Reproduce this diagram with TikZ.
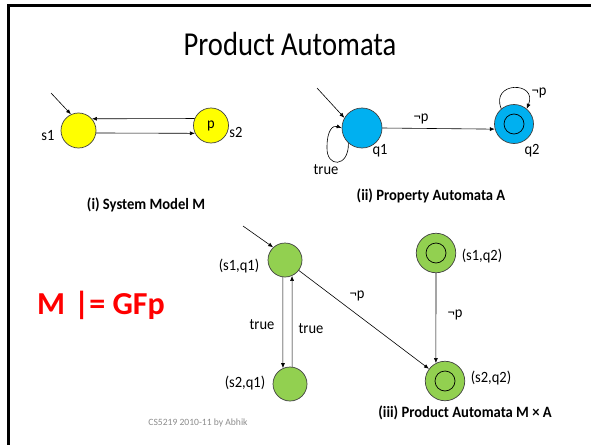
\documentclass[tikz,border=0pt]{standalone}
\usepackage{fontspec}
\usepackage{graphicx}
\setmainfont{Carlito}
\usetikzlibrary{arrows.meta}
\definecolor{sysyellow}{HTML}{FFFF00}
\definecolor{propblue}{HTML}{00B0F0}
\definecolor{prodgreen}{HTML}{92D050}
\definecolor{alertred}{HTML}{FF0000}
\definecolor{footgray}{HTML}{8C8C8C}
% slightly tall lettering
\newcommand{\tallA}[1]{\scalebox{1}[1.08]{#1}}
\newcommand{\tallB}[1]{\scalebox{1}[1.17]{#1}}

\begin{document}
\begin{tikzpicture}[x=1pt,y=-1pt,
  state/.style={circle, draw=black!75, line width=0.7pt, inner sep=0pt},
  sysstate/.style={state, fill=sysyellow, minimum size=35pt},
  propstate/.style={state, fill=propblue, minimum size=40pt},
  prodstate/.style={state, fill=prodgreen},
  accept/.style={path picture={\draw[black, line width=0.7pt]
      (path picture bounding box.center) circle (10pt);}},
  edge/.style={draw, line width=0.6pt, -{Latex[length=5pt,width=4pt]}},
  lbl/.style={font=\fontsize{14.5}{16}\selectfont, inner sep=0pt},
  caption/.style={font=\bfseries\fontsize{14.6}{17}\selectfont, inner sep=0pt},
]
\clip (0,0) rectangle (591,444);
\useasboundingbox (0,0) rectangle (591,444);
% slide frame
\draw[line width=3pt] (8,6) rectangle (640,480);

% title
\node[font=\fontsize{28.6}{34}\selectfont, inner sep=0pt] (title) at (290,44) {\tallB{Product Automata}};

% (i) system model
\node[sysstate] (s1) at (78.5,130.5) {};
\node[sysstate, lbl] (s2) at (211,125.5) {\tallA{p}};
\node[lbl] (s1l) at (48,136) {\tallA{s1}};
\node[lbl] (s2l) at (236,132) {\tallA{s2}};
\coordinate (s1in) at (51,93);
\draw[edge] (s1in) -- (s1.115);
\draw[edge] (s2.157) -- (s1.41);
\draw[edge] (s1.352) -- (s2.206);
\node[caption] (capi) at (146,205) {\tallA{(i) System Model M}};

% (ii) property automaton
\node[propstate] (q1) at (362,128) {};
\node[propstate, minimum size=39pt, accept] (q2) at (514,124) {};
\node[lbl] (q1l) at (380,151) {\tallA{q1}};
\node[lbl] (q2l) at (532,151) {\tallA{q2}};
\coordinate (q1in) at (317,88);
\draw[edge] (q1in) -- (q1.150);
\draw[edge] (q1.east) -- (q2.195);
\node[lbl] (q12l) at (421,119) {\tallA{¬p}};
\draw[edge] (q1.228) .. controls (349,168) and (326,168) .. (327,147)
  .. controls (327,130) and (333,125) .. (q1.180);
\node[lbl] (truel) at (326,170) {\tallA{true}};
\draw[edge] (q2.130) .. controls (490,81) and (538,81) .. (q2.50);
\node[lbl] (q22l) at (539,93) {\tallA{¬p}};
\node[caption] (capii) at (431,196) {\tallA{(ii) Property Automata A}};

% (iii) product automaton
\node[prodstate, minimum size=34pt] (s1q1) at (285,260) {};
\node[prodstate, minimum size=34pt] (s2q1) at (290,384) {};
\node[prodstate, minimum size=39.5pt, accept] (s1q2) at (436,253) {};
\node[prodstate, minimum size=39.5pt, accept] (s2q2) at (445,381) {};
\node[lbl] (s1q1l) at (239,266) {\tallA{(s1,q1)}};
\node[lbl] (s2q1l) at (245,383) {\tallA{(s2,q1)}};
\node[lbl] (s1q2l) at (482,256) {\tallA{(s1,q2)}};
\node[lbl] (s2q2l) at (491,378) {\tallA{(s2,q2)}};
\coordinate (s1q1in) at (243,226);
\draw[edge] (s1q1in) -- (s1q1.133);
\draw[edge] (s1q1.263) -- (s2q1.114);
\draw[edge] (s2q1.83) -- (s1q1.294);
\node[lbl] (t1) at (262,325) {\tallA{true}};
\node[lbl] (t2) at (311,329) {\tallA{true}};
\draw[edge] (s1q1) -- (s2q2);
\node[lbl] (d1) at (357,296) {\tallA{¬p}};
\draw[edge] (s1q2.south) -- (s2q2.117);
\node[lbl] (d2) at (455,315) {\tallA{¬p}};
\node[caption] (capiii) at (465,413) {\tallA{(iii) Product Automata M × A}};

% property and footer
\node[font=\bfseries\fontsize{32}{38}\selectfont, text=alertred, inner sep=0pt] (prop) at (101,305) {M\hspace{9pt}|= GFp};
\node[font=\fontsize{9.6}{11}\selectfont, text=footgray, inner sep=0pt] (foot) at (198,423) {CS5219 2010-11 by Abhik};
\end{tikzpicture}
\end{document}
